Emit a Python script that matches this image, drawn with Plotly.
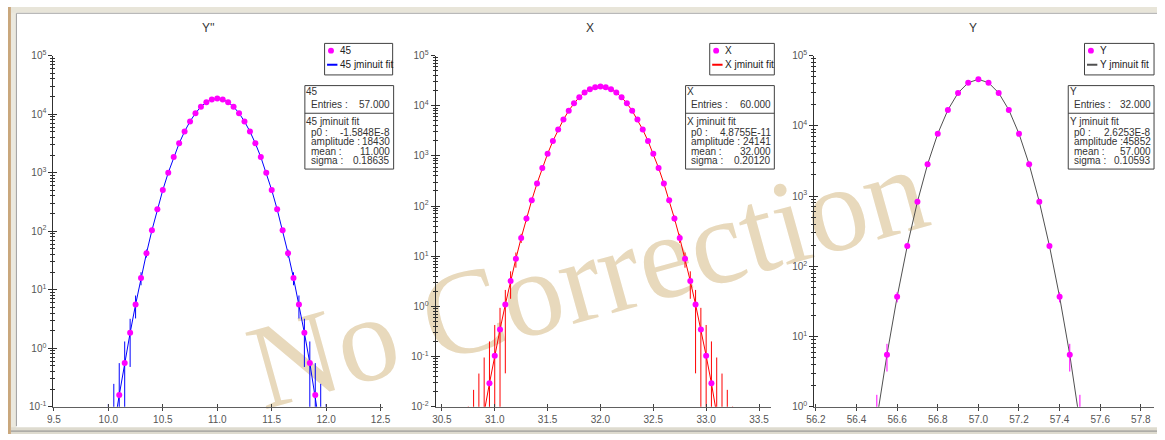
import plotly.graph_objects as go

W, H = 1165, 440
FONT = "Liberation Sans, Arial, sans-serif"

# ---------------- data ----------------
titles = ["Y''", "X", "Y"]
series_names = ["45", "X", "Y"]
fit_names = ["45 jminuit fit", "X jminuit fit", "Y jminuit fit"]

# panel 1 : Y''
x_45 = [9.95, 10.0, 10.05, 10.1, 10.15, 10.2, 10.25, 10.3, 10.35, 10.4, 10.45,
        10.5, 10.55, 10.6, 10.65, 10.7, 10.75, 10.8, 10.85, 10.9, 10.95, 11.0,
        11.05, 11.1, 11.15, 11.2, 11.25, 11.3, 11.35, 11.4, 11.45, 11.5, 11.55,
        11.6, 11.65, 11.7, 11.75, 11.8, 11.85, 11.9, 11.95, 12.0, 12.05]
counts_45 = [0.00235, 0.0103, 0.0419, 0.159, 0.559, 1.835, 5.60, 15.9, 42.0, 103.4,
             236.6, 503.8, 998.3, 1841, 3159, 5044, 7494, 10361, 13330, 15959, 17779,
             18430,
             17779, 15959, 13330, 10361, 7494, 5044, 3159, 1841, 998.3, 503.8,
             236.6, 103.4, 42.0, 15.9, 5.60, 1.835, 0.559, 0.159, 0.0419, 0.0103, 0.00235]
err_45 = [0.0485, 0.1015, 0.2047, 0.3987, 0.7477, 1.355, 2.366, 3.987, 6.481, 10.17,
          15.38, 22.45, 31.60, 42.91, 56.21, 71.02, 86.57, 101.8, 115.5, 126.3, 133.3,
          135.8,
          133.3, 126.3, 115.5, 101.8, 86.57, 71.02, 56.21, 42.91, 31.60, 22.45,
          15.38, 10.17, 6.481, 3.987, 2.366, 1.355, 0.7477, 0.3987, 0.2047, 0.1015, 0.0485]
fit_45 = [0.00235, 0.0103, 0.0419, 0.159, 0.559, 1.835, 5.60, 15.9, 42.0, 103.4,
          236.6, 503.8, 998.3, 1841, 3159, 5044, 7494, 10361, 13330, 15959, 17779,
          18430,
          17779, 15959, 13330, 10361, 7494, 5044, 3159, 1841, 998.3, 503.8,
          236.6, 103.4, 42.0, 15.9, 5.60, 1.835, 0.559, 0.159, 0.0419, 0.0103, 0.00235]

# panel 2 : X
x_X = [30.75, 30.8, 30.85, 30.9, 30.95, 31.0, 31.05, 31.1, 31.15, 31.2, 31.25, 31.3,
       31.35, 31.4, 31.45, 31.5, 31.55, 31.6, 31.65, 31.7, 31.75, 31.8, 31.85, 31.9,
       31.95, 32.0, 32.05, 32.1, 32.15, 32.2, 32.25, 32.3, 32.35, 32.4, 32.45, 32.5,
       32.55, 32.6, 32.65, 32.7, 32.75, 32.8, 32.85, 32.9, 32.95, 33.0, 33.05, 33.1,
       33.15, 33.2, 33.25]
counts_X = [0.0001003, 0.000455, 0.001944, 0.0078, 0.02943, 0.1044, 0.348, 1.091,
            3.215, 8.906, 23.2, 56.8, 130.7, 282.9, 575.6, 1100.8, 1979, 3346, 5317,
            7943, 11156, 14730, 18284, 21336, 23407,
            24141,
            23407, 21336, 18284, 14730, 11156, 7943, 5317, 3346, 1979, 1100.8, 575.6,
            282.9, 130.7, 56.8, 23.2, 8.906, 3.215, 1.091, 0.348, 0.1044, 0.02943,
            0.0078, 0.001944, 0.000455, 0.0001003]
err_X = [0.01002, 0.02133, 0.04409, 0.08832, 0.1716, 0.3231, 0.5899, 1.0445, 1.793,
         2.984, 4.817, 7.537, 11.43, 16.82, 23.99, 33.18, 44.49, 57.84, 72.92, 89.12,
         105.6, 121.4, 135.2, 146.1, 153.0,
         155.4,
         153.0, 146.1, 135.2, 121.4, 105.6, 89.12, 72.92, 57.84, 44.49, 33.18, 23.99,
         16.82, 11.43, 7.537, 4.817, 2.984, 1.793, 1.0445, 0.5899, 0.3231, 0.1716,
         0.08832, 0.04409, 0.02133, 0.01002]
fit_X = [0.0001003, 0.000455, 0.001944, 0.0078, 0.02943, 0.1044, 0.348, 1.091,
         3.215, 8.906, 23.2, 56.8, 130.7, 282.9, 575.6, 1100.8, 1979, 3346, 5317,
         7943, 11156, 14730, 18284, 21336, 23407,
         24141,
         23407, 21336, 18284, 14730, 11156, 7943, 5317, 3346, 1979, 1100.8, 575.6,
         282.9, 130.7, 56.8, 23.2, 8.906, 3.215, 1.091, 0.348, 0.1044, 0.02943,
         0.0078, 0.001944, 0.000455, 0.0001003]

# panel 3 : Y
x_Y = [56.45, 56.5, 56.55, 56.6, 56.65, 56.7, 56.75, 56.8, 56.85, 56.9, 56.95, 57.0,
       57.05, 57.1, 57.15, 57.2, 57.25, 57.3, 57.35, 57.4, 57.45, 57.5, 57.55]
counts_Y = [0.0642, 0.666, 5.53, 36.73, 195.3, 831.2, 2830.5, 7714, 16825, 29366, 41018,
            45852,
            41018, 29366, 16825, 7714, 2830.5, 831.2, 195.3, 36.73, 5.53, 0.666, 0.0642]
err_Y = [0.2534, 0.8161, 2.352, 6.061, 13.97, 28.83, 53.20, 87.83, 129.7, 171.4, 202.5,
         214.1,
         202.5, 171.4, 129.7, 87.83, 53.20, 28.83, 13.97, 6.061, 2.352, 0.8161, 0.2534]
fit_Y = [0.0642, 0.666, 5.53, 36.73, 195.3, 831.2, 2830.5, 7714, 16825, 29366, 41018,
         45852,
         41018, 29366, 16825, 7714, 2830.5, 831.2, 195.3, 36.73, 5.53, 0.666, 0.0642]

# tick labels
xtick_45 = [9.5, 10.0, 10.5, 11.0, 11.5, 12.0, 12.5]
xtext_45 = ["9.5", "10.0", "10.5", "11.0", "11.5", "12.0", "12.5"]
xtick_X = [30.5, 31.0, 31.5, 32.0, 32.5, 33.0, 33.5]
xtext_X = ["30.5", "31.0", "31.5", "32.0", "32.5", "33.0", "33.5"]
xtick_Y = [56.2, 56.4, 56.6, 56.8, 57.0, 57.2, 57.4, 57.6, 57.8]
xtext_Y = ["56.2", "56.4", "56.6", "56.8", "57.0", "57.2", "57.4", "57.6", "57.8"]
ydecades_45 = [-1, 0, 1, 2, 3, 4, 5]
ydecades_X = [-2, -1, 0, 1, 2, 3, 4, 5]
ydecades_Y = [0, 1, 2, 3, 4, 5]

# statistics boxes
stat_entries = ["57.000", "60.000", "32.000"]
stat_p0 = ["-1.5848E-8", "4.8755E-11", "2.6253E-8"]
stat_amplitude = ["18430", "24141", "45852"]
stat_mean = ["11.000", "32.000", "57.000"]
stat_sigma = ["0.18635", "0.20120", "0.10593"]

# ---------------- styling / layout ----------------
fit_colors = ["#0000ff", "#ff0000", "#505050"]
err_colors = ["#0000ff", "#ff0000", "#ff00ff"]
marker_color = "#ff00ff"

xs = [x_45, x_X, x_Y]
counts = [counts_45, counts_X, counts_Y]
errs = [err_45, err_X, err_Y]
fits = [fit_45, fit_X, fit_Y]
xticks = [xtick_45, xtick_X, xtick_Y]
xtexts = [xtext_45, xtext_X, xtext_Y]
ydecs = [ydecades_45, ydecades_X, ydecades_Y]
x_ranges = [[9.495, 12.52], [30.44, 33.617], [56.192, 57.865]]
dom_px = [(46, 380), (433.5, 774), (817.5, 1162)]
plot_top, plot_bot = 50, 412
title_x = [203, 590, 978]
legend_px = [(321, 390), (711.5, 777), (1091.5, 1162)]
box_px = [(301, 391), (687, 777), (1075, 1162)]


def fx(p):
    return p / W


def fy(p):
    return 1 - p / H


fig = go.Figure()
layout = dict(
    width=W, height=H, autosize=False,
    margin=dict(l=0, r=0, t=0, b=0, pad=0),
    paper_bgcolor="white", plot_bgcolor="rgba(0,0,0,0)",
    font=dict(family=FONT, size=10, color="#333333"),
    showlegend=False,
)

annotations = []
shapes = []


def txt(text, x, y, anchor="left", size=10, color="#333333"):
    annotations.append(dict(text=text, x=fx(x), y=fy(y), xref="paper", yref="paper",
                            showarrow=False, xanchor=anchor, yanchor="middle", borderpad=0,
                            font=dict(family=FONT, size=size, color=color)))


def rect(x0, y0, x1, y1, fill, line_color=None, layer="above"):
    shapes.append(dict(type="rect", xref="paper", yref="paper",
                       x0=fx(x0), x1=fx(x1), y0=fy(y1), y1=fy(y0), fillcolor=fill,
                       line=dict(width=1 if line_color else 0, color=line_color or fill),
                       layer=layer))


def hline(x0, x1, y, color, width=1, layer="above"):
    shapes.append(dict(type="line", xref="paper", yref="paper", x0=fx(x0), x1=fx(x1),
                       y0=fy(y), y1=fy(y), line=dict(color=color, width=width), layer=layer))


# window frame (decoration)
rect(0, 0, 3, 440, "#c9a77c", layer="below")
rect(3, 0, 8, 440, "#ebe9df", layer="below")
rect(3, 0, W, 6, "#e8e5d9", layer="below")
rect(3, 433, W, 440, "#dedbcf", layer="below")
shapes.append(dict(type="line", xref="paper", yref="paper", x0=fx(8.5), x1=fx(8.5),
                   y0=fy(432), y1=fy(6.5), line=dict(color="#9a9a9a", width=1), layer="below"))
hline(8.5, W, 6.5, "#a8a8a8", layer="below")
hline(3, W, 437, "#8c8c8c", layer="below")

# watermark (drawn below data)
shapes.append(dict(type="rect", xref="paper", yref="paper",
                   x0=fx(579), x1=fx(589), y0=fy(271), y1=fy(261),
                   line=dict(width=0), fillcolor="rgba(0,0,0,0)", layer="below",
                   label=dict(text="No Correction", textangle=-15.5, textposition="middle center",
                              font=dict(family="Liberation Serif, Times New Roman, serif",
                                        size=121, color="#e8d9bc"))))

for i in range(3):
    n = i + 1
    sfx = "" if n == 1 else str(n)
    o = n + 3
    xa, ya = "x" + sfx, "y" + sfx

    # fit line (drawn first so points sit on top)
    fig.add_trace(go.Scatter(
        x=xs[i], y=fits[i], mode="lines", name=fit_names[i],
        line=dict(color=fit_colors[i], width=1),
        xaxis=xa, yaxis=ya, hoverinfo="skip"))
    # data points with error bars
    fig.add_trace(go.Scatter(
        x=xs[i], y=counts[i], mode="markers", name=series_names[i],
        marker=dict(color=marker_color, size=6, line=dict(width=0)),
        error_y=dict(type="data", array=errs[i], visible=True, color=err_colors[i],
                     thickness=1, width=0),
        xaxis=xa, yaxis=ya, hoverinfo="skip"))
    # empty trace for the overlay (inside-tick) axes
    fig.add_trace(go.Scatter(x=[], y=[], xaxis="x%d" % o, yaxis="y%d" % o,
                             showlegend=False, hoverinfo="skip"))

    dom = [fx(dom_px[i][0]), fx(dom_px[i][1])]
    ydom = [fy(plot_bot), fy(plot_top)]
    yr = [ydecs[i][0], ydecs[i][-1]]
    ytv = [10.0 ** d for d in ydecs[i]]
    ytt = ["10<sup>%d</sup>" % d for d in ydecs[i]]
    minor_vals = [k * 10.0 ** d for d in ydecs[i][:-1] for k in range(2, 10)]

    common_x = dict(domain=dom, range=x_ranges[i], showgrid=False, zeroline=False,
                    tickmode="array", tickvals=xticks[i], fixedrange=True)
    layout["xaxis" + sfx] = dict(common_x, anchor=ya, showline=True, linecolor="#606060",
                                 linewidth=1, ticks="outside", ticklen=3, tickcolor="#404040",
                                 ticktext=xtexts[i],
                                 tickfont=dict(family=FONT, size=10, color="#555555"))
    layout["xaxis%d" % o] = dict(common_x, anchor="y%d" % o, overlaying=xa, showline=False,
                                 ticks="inside", ticklen=3, tickcolor="#404040",
                                 showticklabels=False)

    common_y = dict(domain=ydom, type="log", range=yr, showgrid=False, zeroline=False,
                    tickmode="array", tickvals=ytv, fixedrange=True)
    layout["yaxis" + sfx] = dict(common_y, anchor=xa, showline=True, linecolor="#303030",
                                 linewidth=1, ticks="outside", ticklen=4, tickcolor="#303030",
                                 ticktext=ytt,
                                 tickfont=dict(family=FONT, size=10, color="#555555"),
                                 minor=dict(tickmode="array", tickvals=minor_vals,
                                            ticks="outside", ticklen=2, tickcolor="#303030",
                                            showgrid=False))
    layout["yaxis%d" % o] = dict(common_y, anchor="x%d" % o, overlaying=ya, showline=False,
                                 ticks="inside", ticklen=4, tickcolor="#303030",
                                 showticklabels=False,
                                 minor=dict(tickmode="array", tickvals=minor_vals,
                                            ticks="inside", ticklen=2, tickcolor="#303030",
                                            showgrid=False))

    # legend box (compact, as in the original)
    lx0, lx1 = legend_px[i]
    rect(lx0, 37.5, lx1, 70, "white", "#404040")
    shapes.append(dict(type="circle", xref="paper", yref="paper",
                       x0=fx(lx0 + 3.5), x1=fx(lx0 + 9.5), y0=fy(48), y1=fy(42),
                       fillcolor=marker_color, line=dict(width=0)))
    hline(lx0 + 2.5, lx0 + 13, 59.5, fit_colors[i], width=2)
    txt(series_names[i], lx0 + 14.5, 45, color="#222222")
    txt(fit_names[i], lx0 + 14.5, 59.5, color="#222222")

    # title
    txt(titles[i], title_x[i], 22, anchor="center", size=12)

    # statistics box
    bl, br = box_px[i]
    rect(bl, 81, br, 167, "white", "#404040")
    hline(bl, br, 109.5, "#404040")
    txt(series_names[i], bl + 0.5, 87)
    txt(fit_names[i], bl + 0.5, 118.5)
    rows = [("Entries :", stat_entries[i], 100),
            ("p0 :", stat_p0[i], 129),
            ("amplitude :", stat_amplitude[i], 139),
            ("mean :", stat_mean[i], 149),
            ("sigma :", stat_sigma[i], 158)]
    for lab, val, yy in rows:
        txt(lab, bl + 5, yy)
        txt(val, br - 2.5, yy, anchor="right")

layout["annotations"] = annotations
layout["shapes"] = shapes
fig.update_layout(**layout)
fig.write_html(
    "out.html",
    config={"responsive": False, "displayModeBar": False},
    post_script="document.documentElement.style.margin='0';document.body.style.margin='0';"
                "document.body.style.padding='0';document.documentElement.style.overflow='hidden';"
                "document.body.style.overflow='hidden';",
)
